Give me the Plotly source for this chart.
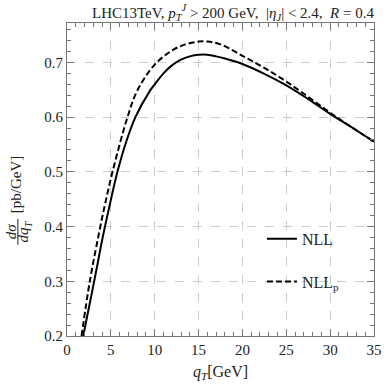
import plotly.graph_objects as go

# NLL (solid)
qt_nll = [1.85, 2.5, 3.0, 3.5, 4.0, 4.74, 5.75, 6.75, 7.8, 9.45, 10.0, 11.0, 12.0, 13.0, 14.0,
          15.0, 16.0, 17.0, 18.0, 20.0, 22.5, 25.0, 27.5, 30.0, 32.5, 35.0]
y_nll = [0.200, 0.252, 0.292, 0.333, 0.375, 0.430, 0.500, 0.555, 0.600, 0.648, 0.660, 0.680, 0.695,
         0.705, 0.711, 0.714, 0.714, 0.711, 0.707, 0.697, 0.679, 0.658, 0.633, 0.606, 0.581, 0.555]

# NLL_p (dashed)
qt_nllp = [1.66, 2.6, 3.8, 4.19, 5.19, 6.9, 8.0, 10.0, 12.0, 13.5, 15.0, 16.0, 17.5, 20.0,
           22.5, 25.0, 27.5, 30.0, 32.5, 35.0]
y_nllp = [0.200, 0.300, 0.400, 0.430, 0.500, 0.600, 0.648, 0.696, 0.722, 0.733, 0.738, 0.738,
          0.733, 0.712, 0.690, 0.665, 0.637, 0.608, 0.581, 0.555]

series_names = ["NLL", "NLL<sub>p</sub>"]
x_ticks = [0, 5, 10, 15, 20, 25, 30, 35]
y_ticks = [0.2, 0.3, 0.4, 0.5, 0.6, 0.7]

FONT = "Liberation Serif"
TXT = "#222"

fig = go.Figure()
fig.add_trace(go.Scatter(x=qt_nll, y=y_nll, mode="lines", name=series_names[0],
                         line=dict(color="black", width=2, shape="spline"), legendgroup="a"))
fig.add_trace(go.Scatter(x=qt_nllp, y=y_nllp, mode="lines", name=series_names[1],
                         line=dict(color="black", width=2, dash="6px,3px", shape="spline"),
                         legendgroup="b"))

axis_common = dict(
    showline=True, linecolor="#777", linewidth=1, mirror="ticks",
    ticks="inside", ticklen=7, tickcolor="#777",
    showgrid=True, gridcolor="#cccccc", griddash="dash", gridwidth=1,
    zeroline=False,
    tickfont=dict(family=FONT, size=15, color=TXT),
)

fig.update_xaxes(range=[0, 35], tickvals=x_ticks,
                 minor=dict(dtick=1, ticklen=4, tickcolor="#777", ticks="inside", showgrid=False),
                 title=dict(text="<i>q<sub>T</sub></i>[GeV]", font=dict(family=FONT, size=16, color=TXT),
                            standoff=8),
                 **axis_common)
fig.update_yaxes(range=[0.2, 0.772], tickvals=y_ticks, tickformat=".1f",
                 minor=dict(dtick=0.02, tick0=0.2, ticklen=4, tickcolor="#777", ticks="inside", showgrid=False),
                 **axis_common)

# y-axis label drawn as a stacked fraction dσ/dq_T followed by [pb/GeV], rotated
lab_font = dict(family=FONT, size=15, color=TXT)
fig.add_annotation(text="<i>dσ</i>", textangle=-90, xref="paper", yref="paper",
                   x=-0.180, y=0.334, xanchor="center", yanchor="middle", showarrow=False, font=lab_font)
fig.add_annotation(text="<i>dq<sub>T</sub></i>", textangle=-90, xref="paper", yref="paper",
                   x=-0.137, y=0.334, xanchor="center", yanchor="middle", showarrow=False, font=lab_font)
fig.add_annotation(text="[pb/GeV]", textangle=-90, xref="paper", yref="paper",
                   x=-0.167, y=0.484, xanchor="center", yanchor="middle", showarrow=False,
                   font=dict(family=FONT, size=15, color=TXT))
fig.add_shape(type="line", xref="paper", yref="paper", x0=-0.160, x1=-0.160, y0=0.292, y1=0.374,
              line=dict(color=TXT, width=1))

fig.update_layout(
    width=390, height=385,
    margin=dict(l=67, r=8, t=23, b=48),
    plot_bgcolor="white", paper_bgcolor="white",
    title=dict(text="LHC13TeV, <i>p</i><sub><i>T</i></sub><sup><i>J</i></sup> > 200 GeV,  |<i>η<sub>J</sub></i>| < 2.4,  <i>R</i> = 0.4",
               x=1.0, xanchor="right", xref="paper", y=0.968, yanchor="middle",
               font=dict(family=FONT, size=15, color=TXT)),
    showlegend=True,
    legend=dict(x=0.635, y=0.242, xanchor="left", yanchor="middle", bgcolor="rgba(0,0,0,0)",
                font=dict(family=FONT, size=16, color=TXT), itemwidth=30,
                traceorder="grouped", tracegroupgap=19),
)

# remove the default 8px body margin so the 390x385 figure fills the window exactly
fig.write_html("out.html", config={"displayModeBar": False},
               post_script="document.body.style.margin='0';")
